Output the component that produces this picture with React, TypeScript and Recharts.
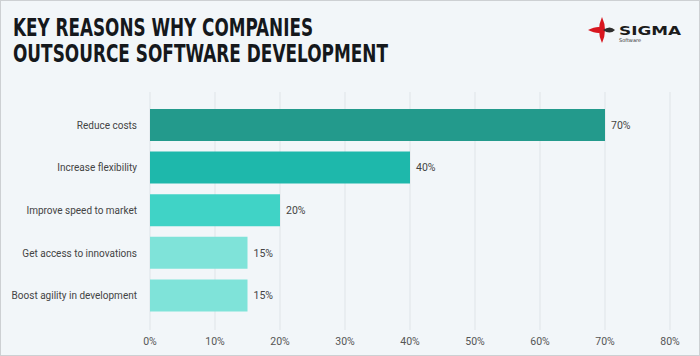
import { BarChart, Bar, XAxis, YAxis, CartesianGrid, Cell, LabelList } from "recharts";

const categories = [
    "Reduce costs",
    "Increase flexibility",
    "Improve speed to market",
    "Get access to innovations",
    "Boost agility in development",
];
const shares = [70, 40, 20, 15, 15];
const xTicks = [0, 10, 20, 30, 40, 50, 60, 70, 80];

const barColors = ["#239a8c", "#1eb8ab", "#40d3c6", "#7fe3d9", "#7fe3d9"];

const data = categories.map((name, i) => ({ name, value: shares[i] }));

const font = "Roboto, 'Noto Sans', sans-serif";

// single line category label, no wrapping
const CategoryTick = (props: any) => {
    const { x, y, payload } = props;
    return (
        <text x={x} y={y} dy="0.355em" textAnchor="end" fill="#444" fontSize={10} fontFamily={font}>
            {payload.value}
        </text>
    );
};

const App = () => {
    return (
        <div
            style={{
                position: "absolute",
                left: 0,
                top: 0,
                width: 700,
                height: 356,
                background: "#f2f6f9",
                border: "1px solid #cdd0d3",
                boxSizing: "border-box",
                overflow: "hidden",
            }}
        >
            <div style={{ position: "absolute", left: -1, top: -1 }}>
                <BarChart
                    width={700}
                    height={356}
                    data={data}
                    layout="vertical"
                    margin={{ top: 92, right: 30, bottom: 6, left: 0 }}
                >
                    <CartesianGrid horizontal={false} stroke="#dfe4e8" />
                    <XAxis
                        type="number"
                        domain={[0, 80]}
                        ticks={xTicks}
                        tickFormatter={(v) => `${v}%`}
                        axisLine={false}
                        tickLine={false}
                        height={20}
                        tick={{ fill: "#555", fontSize: 10.5, fontFamily: font }}
                    />
                    <YAxis
                        type="category"
                        dataKey="name"
                        width={150}
                        axisLine={false}
                        tickLine={false}
                        tickMargin={7}
                        padding={{ top: 12, bottom: 13 }}
                        tick={<CategoryTick />}
                    />
                    <Bar dataKey="value" barSize={32} isAnimationActive={false}>
                        {data.map((d, i) => (
                            <Cell key={d.name} fill={barColors[i]} />
                        ))}
                        <LabelList
                            dataKey="value"
                            position="right"
                            offset={6}
                            formatter={(v: any) => `${v}%`}
                            style={{ fill: "#444", fontSize: 10.5, fontFamily: font }}
                        />
                    </Bar>
                </BarChart>
            </div>
            <svg
                width={700}
                height={80}
                style={{ position: "absolute", left: -1, top: -1 }}
            >
                <g fontFamily="'DejaVu Sans Condensed', 'DejaVu Sans', sans-serif" fontWeight="bold" fill="#15181c" fontSize={24}>
                    <text x={13} y={36} textLength={300} lengthAdjust="spacingAndGlyphs">
                        KEY REASONS WHY COMPANIES
                    </text>
                    <text x={13} y={62} textLength={375} lengthAdjust="spacingAndGlyphs">
                        OUTSOURCE SOFTWARE DEVELOPMENT
                    </text>
                </g>
                {/* logo */}
                <path d="M602 17 Q608 30 602 43 Q596 30 602 17 Z" fill="#d8161f" />
                <path d="M588 30 Q600 24 606 30 Q600 36 588 30 Z" fill="#d8161f" />
                <path d="M603 30 Q610 25 615 30 Q610 35 603 30 Z" fill="#2e2e2e" />
                <text x={619} y={35} fontFamily="'DejaVu Sans', sans-serif" fontWeight="bold" fontSize={12} fill="#1b1b1b" textLength={62} lengthAdjust="spacingAndGlyphs">
                    SIGMA
                </text>
                <text x={619} y={42} fontFamily="'DejaVu Sans', sans-serif" fontSize={5} fill="#333">
                    Software
                </text>
            </svg>
        </div>
    );
};

export default App;
